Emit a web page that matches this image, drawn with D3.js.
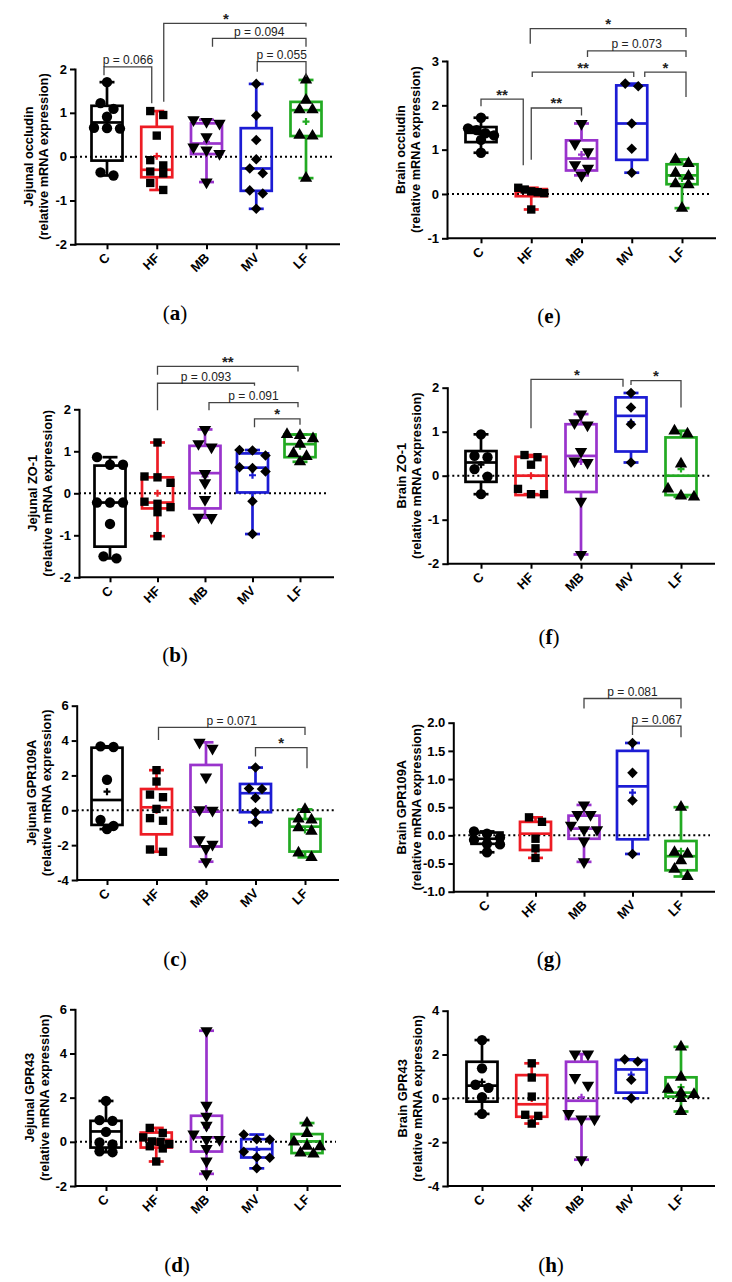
<!DOCTYPE html>
<html>
<head>
<meta charset="utf-8">
<script src="https://cdn.jsdelivr.net/npm/d3@7"></script>
<style>
  body { margin: 0; background: #fff; }
</style>
</head>
<body>
<svg id="fig" width="732" height="1282"></svg>
<script>
var groups = ["C", "HF", "MB", "MV", "LF"];
var groupColors = ["#000000", "#ed1c24", "#9933cc", "#1c1cd4", "#22aa22"];
var groupShapes = ["circle", "square", "triDown", "diamond", "triUp"];

// ticks
var ticksOccJej = [-2, -1, 0, 1, 2];
var ticksOccBrain = [-1, 0, 1, 2, 3];
var ticksZO = [-2, -1, 0, 1, 2];
var ticksGPR109Jej = [-4, -2, 0, 2, 4, 6];
var ticksGPR109Brain = [-1, -0.5, 0, 0.5, 1, 1.5, 2];
var ticksGPR43Jej = [-2, 0, 2, 4, 6];
var ticksGPR43Brain = [-4, -2, 0, 2, 4];

// (a) Jejunal occludin
var jejOccPts = [
  [1.70, 1.22, 1.09, 0.91, 0.66, 0.65, 0.64, -0.36, -0.43],
  [1.04, 0.95, 0.48, -0.08, -0.20, -0.34, -0.38, -0.60, -0.76],
  [0.84, 0.80, 0.76, 0.45, 0.22, 0.15, 0.07, -0.58],
  [1.66, 0.94, 0.38, -0.06, -0.27, -0.38, -0.77, -0.84, -1.19],
  [1.75, 1.29, 1.07, 1.07, 0.49, 0.47, -0.49]
];
var jejOccBox = [[-0.09, 0.78, 1.16], [-0.47, -0.30, 0.68], [0.06, 0.30, 0.76], [-0.78, -0.27, 0.65], [0.47, 1.06, 1.25]];
var jejOccMean = [0.69, 0.01, 0.34, -0.06, 0.80];
// [from, to, bar, leg from, leg to, label]
var jejOccSig = [
  [0, 1, 2.05, 1.86, 1.22, "p = 0.066"],
  [1, 4, 3.04, 1.25, 2.97, "*"],
  [2, 4, 2.70, 2.51, 2.51, "p = 0.094"],
  [3, 4, 2.17, 1.94, 1.82, "p = 0.055"]
];

// (b) Jejunal ZO-1
var jejZOPts = [
  [0.86, 0.68, 0.68, -0.22, -0.22, -0.22, -0.73, -1.50, -1.55],
  [1.21, 0.40, 0.38, 0.25, -0.20, -0.25, -0.33, -0.45, -1.02],
  [1.52, 1.18, 1.10, 0.47, 0.25, -0.15, -0.57, -0.58],
  [1.03, 1.02, 0.90, 0.62, 0.60, 0.52, -0.19, -0.97],
  [1.40, 1.38, 1.30, 1.17, 0.95, 0.88, 0.75]
];
var jejZOBox = [[-1.27, -0.22, 0.66], [-0.36, -0.22, 0.38], [-0.36, 0.48, 1.13], [0.02, 0.61, 0.95], [0.86, 1.17, 1.40]];
var jejZOMean = [-0.25, 0.0, 0.40, 0.43, 1.12];
var jejZOSig = [
  [1, 4, 3.02, 2.82, 2.90, "**"],
  [1, 3, 2.62, 1.98, 2.56, "p = 0.093"],
  [2, 4, 2.16, 1.98, 2.05, "p = 0.091"],
  [3, 4, 1.77, 1.57, 1.63, "*"]
];

// (c) Jejunal GPR109A
var jejGPR109Pts = [
  [3.67, 3.63, 1.75, -0.55, -0.90, -1.08],
  [2.30, 1.65, 0.90, 0.75, 0.08, -0.45, -0.60, -2.25, -2.38],
  [3.90, 3.55, 1.90, 0.02, 0.0, -1.70, -1.95, -2.20, -2.95],
  [2.45, 1.25, 1.22, 0.70, -0.12, -0.69],
  [0.05, -0.50, -0.55, -1.00, -1.20, -2.45, -2.70]
];
var jejGPR109Box = [[-0.84, 0.59, 3.59], [-1.38, 0.17, 1.22], [-2.08, -0.08, 2.60], [-0.11, 0.98, 1.51], [-2.37, -0.94, -0.50]];
var jejGPR109Mean = [1.07, 0.0, 0.10, 0.80, -1.13];
var jejGPR109Sig = [
  [1, 4, 4.76, 4.03, 4.32, "p = 0.071"],
  [3, 4, 3.59, 3.08, 2.41, "*"]
];

// (d) Jejunal GPR43
var jejGPR43Pts = [
  [1.85, 0.98, 0.95, 0.45, -0.03, -0.12, -0.43, -0.47],
  [0.63, 0.40, 0.20, 0.02, 0.0, -0.10, -0.20, -0.30, -0.89],
  [5.03, 1.65, 1.15, 0.75, 0.35, 0.10, 0.10, -0.30, -0.87, -1.45],
  [0.33, 0.12, 0.10, -0.45, -0.70, -0.72, -1.20],
  [0.85, 0.38, 0.0, -0.20, -0.22, -0.50, -0.55]
];
var jejGPR43Box = [[-0.26, 0.47, 0.95], [-0.26, 0.09, 0.42], [-0.44, 0.20, 1.18], [-0.71, -0.33, 0.12], [-0.51, 0.02, 0.35]];
var jejGPR43Mean = [0.40, -0.03, 0.65, -0.36, 0.0];
var jejGPR43Sig = [];

// (e) Brain occludin
var brainOccPts = [
  [1.72, 1.48, 1.44, 1.37, 1.32, 1.22, 0.93],
  [0.14, 0.10, 0.06, 0.04, 0.02, -0.35],
  [1.59, 1.13, 0.95, 0.66, 0.58, 0.42],
  [2.49, 2.43, 1.59, 1.02, 0.48],
  [0.78, 0.69, 0.47, 0.40, 0.23, 0.21, -0.32]
];
var brainOccBox = [[1.17, 1.38, 1.51], [-0.05, 0.05, 0.11], [0.53, 0.80, 1.21], [0.77, 1.59, 2.45], [0.22, 0.42, 0.67]];
var brainOccMean = [1.35, 0.0, 0.89, 1.60, 0.35];
var brainOccSig = [
  [0, 1, 2.14, 1.98, 0.65, "**"],
  [1, 2, 1.94, 0.77, 1.77, "**"],
  [1, 3, 2.75, 2.64, 2.64, "**"],
  [3, 4, 2.75, 2.64, 2.19, "*"],
  [2, 4, 3.23, 3.09, 3.09, "p = 0.073"],
  [1, 4, 3.73, 3.39, 3.54, "*"]
];

// (f) Brain ZO-1
var brainZOPts = [
  [0.94, 0.45, 0.42, 0.15, -0.02, -0.42],
  [0.47, 0.42, 0.25, -0.30, -0.42, -0.42],
  [1.40, 1.20, 1.15, 0.55, 0.33, 0.30, -0.58, -1.79],
  [1.88, 1.55, 1.17, 0.30],
  [1.02, 0.95, 0.27, -0.30, -0.46, -0.48]
];
var brainZOBox = [[-0.14, 0.30, 0.56], [-0.44, 0.0, 0.43], [-0.37, 0.45, 1.17], [0.55, 1.36, 1.78], [-0.44, 0.0, 0.87]];
var brainZOMean = [0.25, 0.0, 0.32, 1.22, 0.15];
var brainZOSig = [
  [1, 3, 2.19, 1.08, 2.02, "*"],
  [3, 4, 2.16, 2.06, 1.55, "*"]
];

// (g) Brain GPR109A
var brainGPR109Pts = [
  [0.07, 0.03, -0.04, -0.08, -0.15, -0.16, -0.30],
  [0.32, 0.24, -0.06, -0.23, -0.40],
  [0.54, 0.37, 0.37, 0.18, 0.10, 0.10, -0.10, -0.47],
  [1.64, 1.11, 0.62, -0.33],
  [0.50, -0.30, -0.33, -0.45, -0.60, -0.73]
];
var brainGPR109Box = [[-0.15, -0.06, 0.05], [-0.26, 0.03, 0.24], [-0.06, 0.12, 0.35], [-0.07, 0.87, 1.50], [-0.62, -0.37, -0.10]];
var brainGPR109Mean = [-0.09, -0.03, 0.08, 0.76, -0.28];
var brainGPR109Sig = [
  [2, 4, 2.43, 2.25, 2.25, "p = 0.081"],
  [3, 4, 1.94, 1.78, 1.74, "p = 0.067"]
];

// (h) Brain GPR43
var brainGPR43Pts = [
  [2.66, 1.37, 0.62, 0.48, 0.05, -0.71],
  [1.60, 0.95, 0.08, -0.75, -0.80, -1.15],
  [2.02, 2.02, 0.95, 0.60, -0.70, -0.95, -0.95, -2.80],
  [1.78, 1.68, 0.85, 0.0],
  [2.35, 0.97, 0.42, 0.25, 0.18, 0.0, -0.60]
];
var brainGPR43Box = [[-0.15, 0.58, 1.67], [-0.84, -0.27, 1.06], [-0.94, -0.11, 1.67], [0.26, 1.32, 1.75], [0.08, 0.26, 0.96]];
var brainGPR43Mean = [0.75, -0.01, 0.05, 1.08, 0.51];
var brainGPR43Sig = [];

// layout: nudge = [dx from end, dx to end, dx label]
var panels = [
  { tag: "a", title: "Jejunal occludin", pts: jejOccPts, box: jejOccBox, mean: jejOccMean, sig: jejOccSig,
    domain: [-2, 2], ticks: ticksOccJej, ox: 75, yTop: 69, yBot: 244.3, x0: 107, x1: 306, labX: 44, tagX: 175, tagY: 320,
    nudge: [[-3, -5, 0], [7, 0, -9], [6, 0, 0], [1, 0, 0]] },
  { tag: "b", title: "Jejunal ZO-1", pts: jejZOPts, box: jejZOBox, mean: jejZOMean, sig: jejZOSig,
    domain: [-2, 2], ticks: ticksZO, ox: 79, yTop: 409.3, yBot: 577.3, x0: 110, x1: 300, labX: 48, tagX: 175, tagY: 662,
    nudge: [[0, -2, 0], [0, 2, 0], [4, -2, 0], [2, 0, 0]] },
  { tag: "c", title: "Jejunal GPR109A", pts: jejGPR109Pts, box: jejGPR109Box, mean: jejGPR109Mean, sig: jejGPR109Sig,
    domain: [-4, 6], ticks: ticksGPR109Jej, ox: 76.7, yTop: 705.7, yBot: 880, x0: 107, x1: 305, labX: 47, tagX: 175, tagY: 966,
    nudge: [[2, 0, 0], [0, 2, 0]] },
  { tag: "d", title: "Jejunal GPR43", pts: jejGPR43Pts, box: jejGPR43Box, mean: jejGPR43Mean, sig: jejGPR43Sig,
    domain: [-2, 6], ticks: ticksGPR43Jej, ox: 75, yTop: 1009.3, yBot: 1186, x0: 106, x1: 307, labX: 45, tagX: 177, tagY: 1272,
    nudge: [] },
  { tag: "e", title: "Brain occludin", pts: brainOccPts, box: brainOccBox, mean: brainOccMean, sig: brainOccSig,
    domain: [-1, 3], ticks: ticksOccBrain, ox: 447, yTop: 61, yBot: 238.3, x0: 481, x1: 682, labX: 416, tagX: 549, tagY: 323,
    nudge: [[0, -8, 0], [0, 0, 0], [1, 2, 0], [13, 4, 0], [6, 4, 0], [-1, 4, 0]] },
  { tag: "f", title: "Brain ZO-1", pts: brainZOPts, box: brainZOBox, mean: brainZOMean, sig: brainZOSig,
    domain: [-2, 2], ticks: ticksZO, ox: 447.3, yTop: 387.7, yBot: 563.7, x0: 481, x1: 681, labX: 417, tagX: 549, tagY: 644,
    nudge: [[0, -8, 0], [0, 0, 0]] },
  { tag: "g", title: "Brain GPR109A", pts: brainGPR109Pts, box: brainGPR109Box, mean: brainGPR109Mean, sig: brainGPR109Sig,
    domain: [-1, 2], ticks: ticksGPR109Brain, ox: 453.3, yTop: 722.7, yBot: 891.7, x0: 487, x1: 681, labX: 417, tagX: 549, tagY: 966,
    nudge: [[0, 0, 0], [0, 0, 0]], fixed: true },
  { tag: "h", title: "Brain GPR43", pts: brainGPR43Pts, box: brainGPR43Box, mean: brainGPR43Mean, sig: brainGPR43Sig,
    domain: [-4, 4], ticks: ticksGPR43Brain, ox: 447.3, yTop: 1010.7, yBot: 1186, x0: 482, x1: 681, labX: 418, tagX: 551, tagY: 1272,
    nudge: [] }
];

var svg = d3.select("#fig");
svg.append("rect").attr("width", 732).attr("height", 1282).attr("fill", "#fff");

var FONT = "'Liberation Sans', Arial, sans-serif";
var boxW = 31, capW = 15;

function symbolPath(shape) {
  if (shape === "circle") return d3.symbol().type(d3.symbolCircle).size(84)();
  if (shape === "square") return d3.symbol().type(d3.symbolSquare).size(70)();
  if (shape === "diamond") return d3.symbol().type(d3.symbolSquare).size(56)();
  return d3.symbol().type(d3.symbolTriangle).size(66)();
}
function symbolRot(shape) {
  if (shape === "diamond") return 45;
  if (shape === "triDown") return 180;
  return 0;
}

// spread points that sit on about the same height into rows
function swarm(vals, y, cx) {
  var sorted = vals.slice().sort(function(a, b) { return b - a; });
  var rows = [], cur = null;
  sorted.forEach(function(v) {
    if (cur && Math.abs(y(v) - y(cur[0])) < 8) cur.push(v);
    else { cur = [v]; rows.push(cur); }
  });
  var out = [];
  rows.forEach(function(r) {
    var step = r.length > 1 ? Math.min(13, 26 / (r.length - 1)) : 0;
    r.forEach(function(v, i) { out.push({ v: v, x: cx + (i - (r.length - 1) / 2) * step }); });
  });
  return out;
}

function drawPanel(p) {
  var g = svg.append("g").attr("class", "panel-" + p.tag);
  var y = d3.scaleLinear().domain(p.domain).range([p.yBot, p.yTop]);
  var x = d3.scalePoint().domain(groups).range([p.x0, p.x1]);
  var xEnd = p.x1 + 34;

  // dotted zero line
  g.append("line")
    .attr("x1", p.ox).attr("x2", xEnd - 5)
    .attr("y1", y(0)).attr("y2", y(0))
    .attr("stroke", "#000").attr("stroke-width", 2)
    .attr("stroke-dasharray", "2,3");

  // boxes and whiskers
  groups.forEach(function(name, i) {
    var cx = x(name), col = groupColors[i];
    var b = p.box[i], ext = d3.extent(p.pts[i]);
    var bg = g.append("g").attr("stroke", col).attr("stroke-width", 2.7).attr("fill", "none");
    bg.append("line").attr("x1", cx).attr("x2", cx).attr("y1", y(b[2])).attr("y2", y(ext[1]));
    bg.append("line").attr("x1", cx).attr("x2", cx).attr("y1", y(b[0])).attr("y2", y(ext[0]));
    bg.append("line").attr("x1", cx - capW / 2).attr("x2", cx + capW / 2).attr("y1", y(ext[1])).attr("y2", y(ext[1]));
    bg.append("line").attr("x1", cx - capW / 2).attr("x2", cx + capW / 2).attr("y1", y(ext[0])).attr("y2", y(ext[0]));
    bg.append("rect").attr("x", cx - boxW / 2).attr("width", boxW)
      .attr("y", y(b[2])).attr("height", Math.max(0.5, y(b[0]) - y(b[2])));
    bg.append("line").attr("x1", cx - boxW / 2).attr("x2", cx + boxW / 2).attr("y1", y(b[1])).attr("y2", y(b[1]));
    // mean
    var my = y(p.mean[i]);
    bg.append("path").attr("stroke-width", 2.2)
      .attr("d", "M" + (cx - 3.5) + "," + my + "H" + (cx + 3.5) + "M" + cx + "," + (my - 3.5) + "V" + (my + 3.5));
  });

  // points
  groups.forEach(function(name, i) {
    var pos = swarm(p.pts[i], y, x(name));
    g.append("g").selectAll("path").data(pos).enter().append("path")
      .attr("d", symbolPath(groupShapes[i]))
      .attr("transform", function(d) {
        return "translate(" + d.x + "," + y(d.v) + ") rotate(" + symbolRot(groupShapes[i]) + ")";
      })
      .attr("fill", "#000");
  });

  // axes
  var yAxis = d3.axisLeft(y).tickValues(p.ticks).tickSize(5).tickSizeOuter(0).tickPadding(3)
    .tickFormat(function(d) { return p.fixed ? d.toFixed(1) : String(d); });
  var ya = g.append("g").attr("transform", "translate(" + p.ox + ",0)").call(yAxis);
  ya.select(".domain").attr("stroke-width", 2).attr("stroke-linecap", "square");
  ya.selectAll(".tick line").attr("stroke-width", 2);
  ya.selectAll("text").attr("font-family", FONT).attr("font-size", 13).attr("font-weight", "bold").attr("fill", "#000");

  g.append("line").attr("x1", p.ox).attr("x2", xEnd).attr("y1", p.yBot).attr("y2", p.yBot)
    .attr("stroke", "#000").attr("stroke-width", 2);
  var xa = g.append("g").attr("transform", "translate(0," + p.yBot + ")")
    .call(d3.axisBottom(x).tickSize(5).tickSizeOuter(0));
  xa.select(".domain").remove();
  xa.selectAll(".tick line").attr("stroke-width", 2);
  xa.selectAll("text")
    .attr("y", 0).attr("dy", "0.35em")
    .attr("transform", "translate(0,11) rotate(-45)")
    .style("text-anchor", "end")
    .attr("font-family", FONT).attr("font-size", 13).attr("font-weight", "bold").attr("fill", "#000");

  // y title
  var cy = (p.yTop + p.yBot) / 2;
  [[p.title, p.labX - 15], ["(relative mRNA expression)", p.labX]].forEach(function(l) {
    g.append("text")
      .attr("transform", "translate(" + l[1] + "," + cy + ") rotate(-90)")
      .attr("dy", "0.35em")
      .attr("text-anchor", "middle")
      .attr("font-family", FONT).attr("font-size", 12.8).attr("font-weight", "bold")
      .text(l[0]);
  });

  // significance brackets
  p.sig.forEach(function(s, k) {
    var nd = p.nudge[k] || [0, 0, 0];
    var xa1 = x(groups[s[0]]) + nd[0], xa2 = x(groups[s[1]]) + nd[1];
    var yl = y(s[2]);
    g.append("path")
      .attr("d", "M" + xa1 + "," + y(s[3]) + "V" + yl + "H" + xa2 + "V" + y(s[4]))
      .attr("fill", "none").attr("stroke", "#444").attr("stroke-width", 1.3);
    var star = s[5].charAt(0) === "*";
    g.append("text")
      .attr("x", (xa1 + xa2) / 2 + nd[2])
      .attr("y", star ? yl + 0.5 : yl - 2.5)
      .attr("text-anchor", "middle")
      .attr("font-family", FONT)
      .attr("font-size", star ? 15 : 12)
      .attr("font-weight", star ? "bold" : "normal")
      .attr("fill", "#222")
      .text(s[5]);
  });

  // panel tag
  var t = svg.append("text")
    .attr("x", p.tagX).attr("y", p.tagY)
    .attr("text-anchor", "middle")
    .attr("font-family", "'Liberation Serif', 'DejaVu Serif', serif")
    .attr("font-size", 21);
  t.append("tspan").text("(");
  t.append("tspan").attr("font-weight", "bold").text(p.tag);
  t.append("tspan").text(")");
}

panels.forEach(drawPanel);
</script>
</body>
</html>
